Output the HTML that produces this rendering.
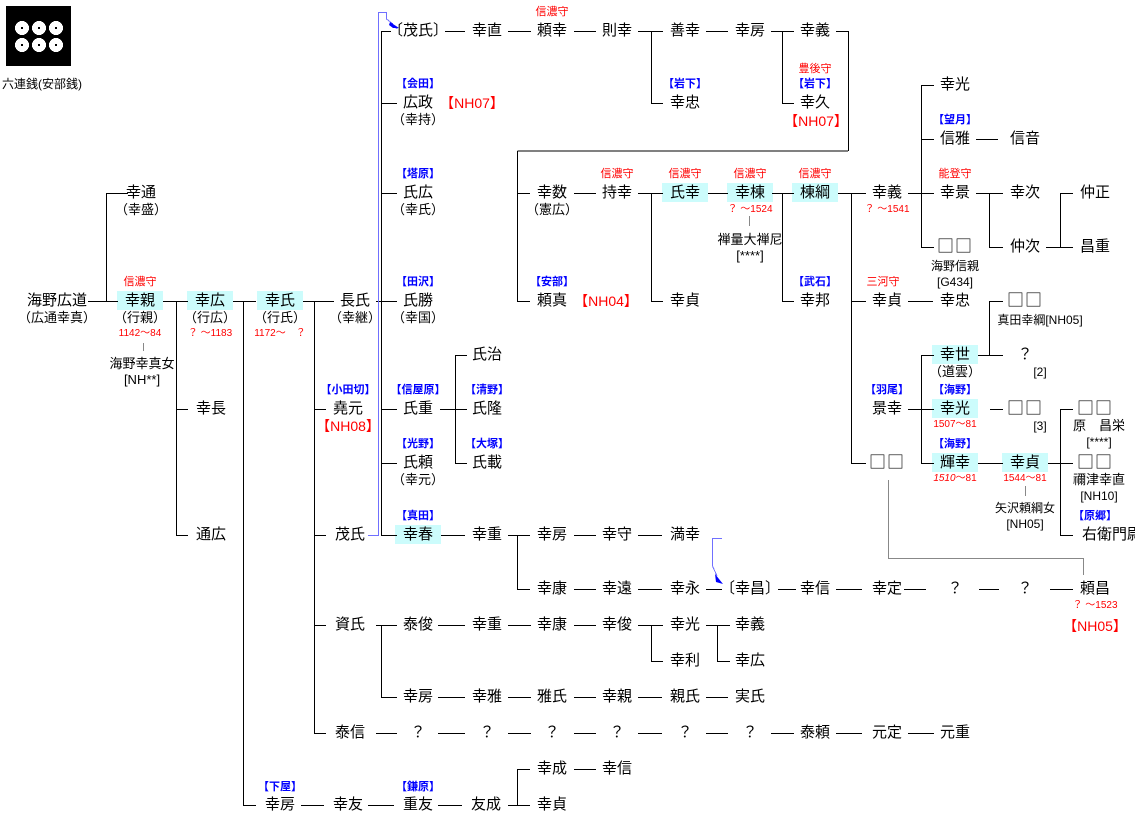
<!DOCTYPE html>
<html><head><meta charset="utf-8">
<style>
body{margin:0;background:#fff;width:1135px;height:827px;position:relative;overflow:hidden;font-family:"Liberation Sans","Noto Sans CJK JP",sans-serif;color:#000}
.n{position:absolute;transform:translateX(-50%);white-space:nowrap;font-size:15px;line-height:18px}
.q{font-family:"Noto Sans CJK JP",sans-serif;font-size:17px;letter-spacing:1px}
.s{position:absolute;transform:translateX(-50%);white-space:nowrap;font-size:13px;line-height:16px}
.d{position:absolute;transform:translateX(-50%);white-space:nowrap;font-size:10px;line-height:12px;color:#f00}
.r{position:absolute;transform:translateX(-50%);white-space:nowrap;font-size:11px;line-height:13px;color:#f00}
.b{position:absolute;transform:translateX(-50%);white-space:nowrap;font-size:11px;line-height:13px;color:#00f;font-weight:bold}
.nh{position:absolute;transform:translateX(-50%);white-space:nowrap;font-size:14px;line-height:16px;color:#f00}
.h{position:absolute;width:46px;height:19px;background:#ccfcfc;margin-left:-23px}
svg{position:absolute;left:0;top:0}
</style></head><body>
<div class="h" style="left:140px;top:291px"></div>
<div class="h" style="left:210px;top:291px"></div>
<div class="h" style="left:280px;top:291px"></div>
<div class="h" style="left:685px;top:183px"></div>
<div class="h" style="left:750px;top:183px"></div>
<div class="h" style="left:815px;top:183px"></div>
<div class="h" style="left:418px;top:525px"></div>
<div class="h" style="left:955px;top:345px"></div>
<div class="h" style="left:955px;top:399px"></div>
<div class="h" style="left:955px;top:453px"></div>
<div class="h" style="left:1025px;top:453px"></div>

<svg width="1135" height="827" shape-rendering="crispEdges">
<rect x="6" y="6" width="65" height="60" fill="#000"/>
<g fill="#fff">
<circle cx="22" cy="28" r="7"/><circle cx="39" cy="28" r="7"/><circle cx="56" cy="28" r="7"/>
<circle cx="22" cy="45" r="7"/><circle cx="39" cy="45" r="7"/><circle cx="56" cy="45" r="7"/>
</g>
<g fill="#000">
<rect x="21" y="27" width="2" height="2"/><rect x="38" y="27" width="2" height="2"/><rect x="55" y="27" width="2" height="2"/>
<rect x="21" y="44" width="2" height="2"/><rect x="38" y="44" width="2" height="2"/><rect x="55" y="44" width="2" height="2"/>
</g>
<g stroke="#000" stroke-width="1" fill="none">
<path d="M106.5 193V301 M176.5 301V535 M243.5 301V805 M314.5 301V733 M381.5 31V535 M517.5 151V301 M848.5 31V151 M517.5 151H848 M651.5 31V103 M782.5 31V103 M651.5 193V301 M782.5 193V301 M851.5 193V463 M921.5 85V247 M989.5 193V247 M1060.5 193V247 M921.5 355V463 M989.5 301V355 M1060.5 409V535 M517.5 535V589 M381.5 625V697 M651.5 625V661 M717.5 625V661 M517.5 769V805 M455.5 355V463"/>
<path d="M106 193.5H128 M88 301.5H118 M163 301.5H188 M233 301.5H256 M303 301.5H334 M376 301.5H397
M381 31.5H391 M445 31.5H465 M508 31.5H531 M574 31.5H596 M638 31.5H663 M706 31.5H728 M771 31.5H794 M836 31.5H848
M381 103.5H397 M651 103.5H663 M782 103.5H794
M381 193.5H397 M517 193.5H530 M574 193.5H596 M638 193.5H663 M708 193.5H728 M772 193.5H794 M838 193.5H866 M908 193.5H934 M976 193.5H1003 M1060 193.5H1073
M921 85.5H934 M921 139.5H934 M976 139.5H998
M921 247.5H934 M989 247.5H1003 M1046 247.5H1073
M517 301.5H530 M651 301.5H663 M782 301.5H794 M851 301.5H866 M908 301.5H933 M989 301.5H1003
M921 355.5H934 M978 355.5H1003 M455 355.5H467
M176 409.5H188 M314 409.5H326 M381 409.5H397 M440 409.5H467 M908 409.5H934 M990 409.5H1003 M1060 409.5H1073
M381 463.5H397 M455 463.5H467 M851 463.5H866 M921 463.5H934 M978 463.5H1003 M1048 463.5H1073
M176 535.5H188 M314 535.5H326 M381 535.5H397 M441 535.5H465 M508 535.5H530 M574 535.5H596 M638 535.5H662 M1060 535.5H1073
M517 589.5H530 M574 589.5H596 M638 589.5H662 M706 589.5H722 M778 589.5H796 M836 589.5H862 M904 589.5H926 M979 589.5H999 M1050 589.5H1073
M314 625.5H326 M376 625.5H397 M438 625.5H465 M508 625.5H531 M574 625.5H596 M638 625.5H663 M706 625.5H730
M651 661.5H663 M717 661.5H730
M381 697.5H397 M438 697.5H465 M508 697.5H531 M574 697.5H596 M638 697.5H662 M706 697.5H728
M314 733.5H326 M376 733.5H397 M438 733.5H465 M508 733.5H531 M574 733.5H596 M638 733.5H662 M706 733.5H728 M771 733.5H794 M836 733.5H862 M908 733.5H934
M517 769.5H530 M574 769.5H596
M243 805.5H256 M301 805.5H324 M368 805.5H394 M438 805.5H462 M508 805.5H530"/>
</g>
<g stroke="#888" fill="none">
<path d="M143.5 343V351 M749.5 216V226 M1025.5 486V496 M888.5 480V558.5H1083.5V575"/>
</g>
<g stroke="#7070ff" fill="none">
<path d="M368 535.5H378.5V12.5H386.5V19 L393 24 M722 538.5H712.5V566 L717 576"/>
</g>
<g fill="#0000ff" shape-rendering="auto">
<path d="M390 22 L399 28 L393 28 L389 25 Z M392 23 L398 29 L392 27 Z"/>
<path d="M715 574 L723 584 L716 582 Z"/>
</g>
</svg>

<div class="s" style="left:42px;top:76px;font-size:12px">六連銭(安部銭)</div>

<div class="n" style="left:57px;top:292px">海野広道</div>
<div class="s" style="left:57px;top:310px">（広通幸真）</div>
<div class="n" style="left:141px;top:184px">幸通</div>
<div class="s" style="left:141px;top:202px">（幸盛）</div>
<div class="r" style="left:140px;top:276px">信濃守</div>
<div class="n" style="left:140px;top:292px">幸親</div>
<div class="s" style="left:140px;top:310px">（行親）</div>
<div class="d" style="left:140px;top:328px">1142～84</div>
<div class="s" style="left:142px;top:356px">海野幸真女</div>
<div class="s" style="left:142px;top:372px">[NH**]</div>
<div class="n" style="left:210px;top:292px">幸広</div>
<div class="s" style="left:210px;top:310px">（行広）</div>
<div class="d" style="left:210px;top:328px">？ ～1183</div>
<div class="n" style="left:211px;top:400px">幸長</div>
<div class="n" style="left:211px;top:526px">通広</div>
<div class="n" style="left:280px;top:292px">幸氏</div>
<div class="s" style="left:280px;top:310px">（行氏）</div>
<div class="d" style="left:280px;top:328px">1172～　？</div>
<div class="b" style="left:280px;top:781px">【下屋】</div>
<div class="n" style="left:280px;top:796px">幸房</div>
<div class="n" style="left:355px;top:292px">長氏</div>
<div class="s" style="left:355px;top:310px">（幸継）</div>
<div class="b" style="left:348px;top:384px">【小田切】</div>
<div class="n" style="left:348px;top:400px">堯元</div>
<div class="nh" style="left:348px;top:418px">【NH08】</div>
<div class="n" style="left:350px;top:526px">茂氏</div>
<div class="n" style="left:350px;top:616px">資氏</div>
<div class="n" style="left:350px;top:724px">泰信</div>
<div class="n" style="left:348px;top:796px">幸友</div>

<div class="n" style="left:418px;top:22px">〔茂氏〕</div>
<div class="b" style="left:418px;top:78px">【会田】</div>
<div class="n" style="left:418px;top:94px">広政</div>
<div class="s" style="left:418px;top:112px">（幸持）</div>
<div class="nh" style="left:472px;top:95px">【NH07】</div>
<div class="b" style="left:418px;top:168px">【塔原】</div>
<div class="n" style="left:418px;top:184px">氏広</div>
<div class="s" style="left:418px;top:202px">（幸氏）</div>
<div class="b" style="left:418px;top:276px">【田沢】</div>
<div class="n" style="left:418px;top:292px">氏勝</div>
<div class="s" style="left:418px;top:310px">（幸国）</div>
<div class="b" style="left:418px;top:384px">【信屋原】</div>
<div class="n" style="left:418px;top:400px">氏重</div>
<div class="b" style="left:418px;top:438px">【光野】</div>
<div class="n" style="left:418px;top:454px">氏頼</div>
<div class="s" style="left:418px;top:472px">（幸元）</div>
<div class="b" style="left:418px;top:510px">【真田】</div>
<div class="n" style="left:418px;top:526px">幸春</div>
<div class="n" style="left:418px;top:616px">泰俊</div>
<div class="n" style="left:418px;top:688px">幸房</div>
<div class="n" style="left:418px;top:724px">？</div>
<div class="b" style="left:418px;top:781px">【鎌原】</div>
<div class="n" style="left:418px;top:796px">重友</div>

<div class="n" style="left:487px;top:22px">幸直</div>
<div class="n" style="left:487px;top:346px">氏治</div>
<div class="b" style="left:487px;top:384px">【清野】</div>
<div class="n" style="left:487px;top:400px">氏隆</div>
<div class="b" style="left:487px;top:438px">【大塚】</div>
<div class="n" style="left:487px;top:454px">氏載</div>
<div class="n" style="left:487px;top:526px">幸重</div>
<div class="n" style="left:487px;top:616px">幸重</div>
<div class="n" style="left:487px;top:688px">幸雅</div>
<div class="n" style="left:487px;top:724px">？</div>
<div class="n" style="left:486px;top:796px">友成</div>

<div class="r" style="left:552px;top:6px">信濃守</div>
<div class="n" style="left:552px;top:22px">頼幸</div>
<div class="n" style="left:552px;top:184px">幸数</div>
<div class="s" style="left:552px;top:202px">（憲広）</div>
<div class="b" style="left:552px;top:276px">【安部】</div>
<div class="n" style="left:552px;top:292px">頼真</div>
<div class="nh" style="left:606px;top:293px">【NH04】</div>
<div class="n" style="left:552px;top:526px">幸房</div>
<div class="n" style="left:552px;top:580px">幸康</div>
<div class="n" style="left:552px;top:616px">幸康</div>
<div class="n" style="left:552px;top:688px">雅氏</div>
<div class="n" style="left:552px;top:724px">？</div>
<div class="n" style="left:552px;top:760px">幸成</div>
<div class="n" style="left:552px;top:796px">幸貞</div>

<div class="n" style="left:617px;top:22px">則幸</div>
<div class="r" style="left:617px;top:168px">信濃守</div>
<div class="n" style="left:617px;top:184px">持幸</div>
<div class="n" style="left:617px;top:526px">幸守</div>
<div class="n" style="left:617px;top:580px">幸遠</div>
<div class="n" style="left:617px;top:616px">幸俊</div>
<div class="n" style="left:617px;top:688px">幸親</div>
<div class="n" style="left:617px;top:724px">？</div>
<div class="n" style="left:617px;top:760px">幸信</div>

<div class="n" style="left:685px;top:22px">善幸</div>
<div class="b" style="left:685px;top:78px">【岩下】</div>
<div class="n" style="left:685px;top:94px">幸忠</div>
<div class="r" style="left:685px;top:168px">信濃守</div>
<div class="n" style="left:685px;top:184px">氏幸</div>
<div class="n" style="left:685px;top:292px">幸貞</div>
<div class="n" style="left:685px;top:526px">満幸</div>
<div class="n" style="left:685px;top:580px">幸永</div>
<div class="n" style="left:685px;top:616px">幸光</div>
<div class="n" style="left:685px;top:652px">幸利</div>
<div class="n" style="left:685px;top:688px">親氏</div>
<div class="n" style="left:685px;top:724px">？</div>

<div class="n" style="left:750px;top:22px">幸房</div>
<div class="r" style="left:750px;top:168px">信濃守</div>
<div class="n" style="left:750px;top:184px">幸棟</div>
<div class="d" style="left:750px;top:204px">？ ～1524</div>
<div class="s" style="left:750px;top:232px">禅量大禅尼</div>
<div class="s" style="left:750px;top:248px">[****]</div>
<div class="n" style="left:750px;top:580px">〔幸昌〕</div>
<div class="n" style="left:750px;top:616px">幸義</div>
<div class="n" style="left:750px;top:652px">幸広</div>
<div class="n" style="left:750px;top:688px">実氏</div>
<div class="n" style="left:750px;top:724px">？</div>

<div class="n" style="left:815px;top:22px">幸義</div>
<div class="r" style="left:815px;top:63px">豊後守</div>
<div class="b" style="left:815px;top:78px">【岩下】</div>
<div class="n" style="left:815px;top:94px">幸久</div>
<div class="nh" style="left:816px;top:113px">【NH07】</div>
<div class="r" style="left:815px;top:168px">信濃守</div>
<div class="n" style="left:815px;top:184px">棟綱</div>
<div class="b" style="left:815px;top:276px">【武石】</div>
<div class="n" style="left:815px;top:292px">幸邦</div>
<div class="n" style="left:815px;top:580px">幸信</div>
<div class="n" style="left:815px;top:724px">泰頼</div>

<div class="n" style="left:887px;top:184px">幸義</div>
<div class="d" style="left:887px;top:204px">？ ～1541</div>
<div class="r" style="left:883px;top:276px">三河守</div>
<div class="n" style="left:887px;top:292px">幸貞</div>
<div class="b" style="left:887px;top:384px">【羽尾】</div>
<div class="n" style="left:887px;top:400px">景幸</div>
<div class="n q" style="left:887px;top:452px">□□</div>
<div class="n" style="left:887px;top:580px">幸定</div>
<div class="n" style="left:887px;top:724px">元定</div>

<div class="n" style="left:955px;top:76px">幸光</div>
<div class="b" style="left:955px;top:114px">【望月】</div>
<div class="n" style="left:955px;top:130px">信雅</div>
<div class="r" style="left:955px;top:168px">能登守</div>
<div class="n" style="left:955px;top:184px">幸景</div>
<div class="n q" style="left:955px;top:236px">□□</div>
<div class="s" style="left:955px;top:258px;font-size:12px">海野信親</div>
<div class="s" style="left:955px;top:274px;font-size:12px">[G434]</div>
<div class="n" style="left:955px;top:292px">幸忠</div>
<div class="n" style="left:955px;top:346px">幸世</div>
<div class="s" style="left:955px;top:364px">（道雲）</div>
<div class="b" style="left:955px;top:384px">【海野】</div>
<div class="n" style="left:955px;top:400px">幸光</div>
<div class="d" style="left:955px;top:419px">1507～81</div>
<div class="b" style="left:955px;top:438px">【海野】</div>
<div class="n" style="left:955px;top:454px">輝幸</div>
<div class="d" style="left:955px;top:473px"><i>1510</i>～81</div>
<div class="n" style="left:955px;top:580px">？</div>
<div class="n" style="left:955px;top:724px">元重</div>

<div class="n" style="left:1025px;top:130px">信音</div>
<div class="n" style="left:1025px;top:184px">幸次</div>
<div class="n" style="left:1025px;top:238px">仲次</div>
<div class="n q" style="left:1025px;top:290px">□□</div>
<div class="s" style="left:1040px;top:312px;font-size:12px">真田幸綱[NH05]</div>
<div class="n" style="left:1025px;top:346px">？</div>
<div class="s" style="left:1040px;top:364px;font-size:12px">[2]</div>
<div class="n q" style="left:1025px;top:398px">□□</div>
<div class="s" style="left:1040px;top:418px;font-size:12px">[3]</div>
<div class="n" style="left:1025px;top:454px">幸貞</div>
<div class="d" style="left:1025px;top:473px">1544～81</div>
<div class="s" style="left:1025px;top:500px;font-size:12px">矢沢頼綱女</div>
<div class="s" style="left:1025px;top:516px;font-size:12px">[NH05]</div>
<div class="n" style="left:1025px;top:580px">？</div>

<div class="n" style="left:1095px;top:184px">仲正</div>
<div class="n" style="left:1095px;top:238px">昌重</div>
<div class="n q" style="left:1095px;top:398px">□□</div>
<div class="s" style="left:1099px;top:418px">原　昌栄</div>
<div class="s" style="left:1099px;top:434px;font-size:12px">[****]</div>
<div class="n q" style="left:1095px;top:452px">□□</div>
<div class="s" style="left:1099px;top:472px">禰津幸直</div>
<div class="s" style="left:1099px;top:488px;font-size:12px">[NH10]</div>
<div class="b" style="left:1095px;top:510px">【原郷】</div>
<div class="n" style="left:1112px;top:526px">右衛門尉</div>
<div class="n" style="left:1095px;top:580px">頼昌</div>
<div class="d" style="left:1095px;top:600px">？ ～1523</div>
<div class="nh" style="left:1095px;top:618px">【NH05】</div>
</body></html>
